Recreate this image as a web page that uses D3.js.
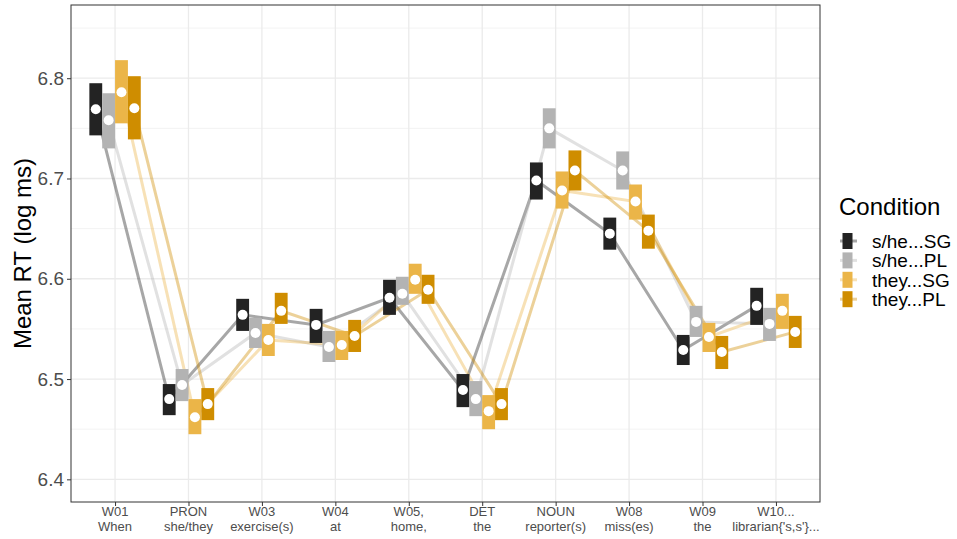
<!DOCTYPE html>
<html>
<head>
<meta charset="utf-8">
<script src="https://cdn.jsdelivr.net/npm/d3@7"></script>
<style>
  body { margin: 0; background: #fff; }
  svg { font-family: "Liberation Sans", Arial, sans-serif; }
</style>
</head>
<body>
<div id="chart"></div>
<script>
// Data
const wordTop = ['W01', 'PRON', 'W03', 'W04', 'W05,', 'DET', 'NOUN', 'W08', 'W09', 'W10...'];
const wordBottom = ['When', 'she/they', 'exercise(s)', 'at', 'home,', 'the', 'reporter(s)', 'miss(es)', 'the', "librarian{'s,s'}..."];
const conditions = ['s/he...SG', 's/he...PL', 'they...SG', 'they...PL'];
const yTicks = [6.4, 6.5, 6.6, 6.7, 6.8];

const sheSGMean = [6.769, 6.480, 6.564, 6.554, 6.581, 6.489, 6.698, 6.645, 6.529, 6.573];
const sheSGLow  = [6.743, 6.464, 6.548, 6.536, 6.564, 6.472, 6.679, 6.629, 6.514, 6.554];
const sheSGHigh = [6.795, 6.495, 6.580, 6.570, 6.599, 6.505, 6.716, 6.661, 6.544, 6.591];

const shePLMean = [6.758, 6.494, 6.546, 6.532, 6.585, 6.480, 6.750, 6.708, 6.557, 6.555];
const shePLLow  = [6.730, 6.478, 6.531, 6.517, 6.574, 6.463, 6.730, 6.689, 6.542, 6.538];
const shePLHigh = [6.785, 6.510, 6.561, 6.548, 6.602, 6.498, 6.770, 6.727, 6.573, 6.571];

const theySGMean = [6.786, 6.462, 6.539, 6.534, 6.599, 6.468, 6.688, 6.677, 6.542, 6.568];
const theySGLow  = [6.755, 6.445, 6.523, 6.519, 6.585, 6.450, 6.670, 6.659, 6.527, 6.550];
const theySGHigh = [6.818, 6.480, 6.555, 6.548, 6.615, 6.484, 6.707, 6.694, 6.556, 6.585];

const theyPLMean = [6.770, 6.475, 6.568, 6.543, 6.589, 6.475, 6.708, 6.648, 6.527, 6.547];
const theyPLLow  = [6.739, 6.459, 6.555, 6.527, 6.575, 6.459, 6.688, 6.630, 6.510, 6.531];
const theyPLHigh = [6.802, 6.491, 6.586, 6.559, 6.604, 6.491, 6.728, 6.664, 6.543, 6.563];

const series = [
    { name: conditions[0], mean: sheSGMean, low: sheSGLow, high: sheSGHigh },
    { name: conditions[1], mean: shePLMean, low: shePLLow, high: shePLHigh },
    { name: conditions[2], mean: theySGMean, low: theySGLow, high: theySGHigh },
    { name: conditions[3], mean: theyPLMean, low: theyPLLow, high: theyPLHigh }
];

const colors = {
    's/he...SG': '#232323',
    's/he...PL': '#b3b3b3',
    'they...SG': '#ebb548',
    'they...PL': '#cf8d00'
};

// Setup
const W = 957, H = 539;
const panel = { left: 71, right: 820, top: 5, bottom: 502 };

const svg = d3.select('#chart').append('svg')
    .attr('width', W)
    .attr('height', H);

svg.append('rect').attr('width', W).attr('height', H).attr('fill', '#fff');

// Scales
const x = d3.scalePoint()
    .domain(d3.range(wordTop.length))
    .range([panel.left, panel.right])
    .padding(0.6);

const y = d3.scaleLinear()
    .domain([6.3774, 6.873])
    .range([panel.bottom, panel.top]);

const dodge = x.step() * 0.7 / conditions.length;
const offset = i => (i - (conditions.length - 1) / 2) * dodge;

// Grid
const grid = svg.append('g');
const minor = d3.range(6.35, 6.9, 0.1).map(v => +v.toFixed(2)).filter(v => y(v) > panel.top && y(v) < panel.bottom);
grid.selectAll('.minor').data(minor).enter().append('line')
    .attr('x1', panel.left).attr('x2', panel.right)
    .attr('y1', d => y(d)).attr('y2', d => y(d))
    .attr('stroke', '#f3f3f3').attr('stroke-width', 1);
grid.selectAll('.majy').data(yTicks).enter().append('line')
    .attr('x1', panel.left).attr('x2', panel.right)
    .attr('y1', d => y(d)).attr('y2', d => y(d))
    .attr('stroke', '#ebebeb').attr('stroke-width', 1.3);
grid.selectAll('.majx').data(x.domain()).enter().append('line')
    .attr('x1', d => x(d)).attr('x2', d => x(d))
    .attr('y1', panel.top).attr('y2', panel.bottom)
    .attr('stroke', '#ebebeb').attr('stroke-width', 1.3);

// Lines
const line = d3.line()
    .x(d => d.x)
    .y(d => y(d.v));

series.forEach((s, i) => {
    const pts = s.mean.map((v, j) => ({ x: x(j) + offset(i), v }));
    svg.append('path')
        .datum(pts)
        .attr('d', line)
        .attr('fill', 'none')
        .attr('stroke', colors[s.name])
        .attr('stroke-opacity', 0.4)
        .attr('stroke-width', 3);
});

// Interval bars and points
series.forEach((s, i) => {
    const g = svg.append('g');
    g.selectAll('rect').data(s.mean).enter().append('rect')
        .attr('x', (d, j) => x(j) + offset(i) - dodge / 2)
        .attr('width', dodge)
        .attr('y', (d, j) => y(s.high[j]))
        .attr('height', (d, j) => y(s.low[j]) - y(s.high[j]))
        .attr('fill', colors[s.name]);
    g.selectAll('circle').data(s.mean).enter().append('circle')
        .attr('cx', (d, j) => x(j) + offset(i))
        .attr('cy', d => y(d))
        .attr('r', 5)
        .attr('fill', '#fff');
});

// Panel border
svg.append('rect')
    .attr('x', panel.left).attr('y', panel.top)
    .attr('width', panel.right - panel.left)
    .attr('height', panel.bottom - panel.top)
    .attr('fill', 'none')
    .attr('stroke', '#333')
    .attr('stroke-width', 1);

// Axes
const yAxis = svg.append('g')
    .attr('transform', `translate(${panel.left},0)`)
    .call(d3.axisLeft(y).tickValues(yTicks).tickSize(4).tickPadding(3).tickFormat(d3.format('.1f')));
yAxis.select('.domain').remove();
yAxis.selectAll('line').attr('stroke', '#333');
yAxis.selectAll('text').attr('fill', '#4d4d4d').style('font-size', '19px').attr('font-family', null);

const xAxis = svg.append('g')
    .attr('transform', `translate(0,${panel.bottom})`)
    .call(d3.axisBottom(x).tickSize(4).tickFormat(''));
xAxis.select('.domain').remove();
xAxis.selectAll('line').attr('stroke', '#333');

const xl = svg.append('g');
xl.selectAll('.t1').data(wordTop).enter().append('text')
    .attr('x', (d, j) => x(j)).attr('y', 516)
    .attr('text-anchor', 'middle')
    .attr('fill', '#4d4d4d').style('font-size', '13px')
    .text(d => d);
xl.selectAll('.t2').data(wordBottom).enter().append('text')
    .attr('x', (d, j) => x(j)).attr('y', 531)
    .attr('text-anchor', 'middle')
    .attr('fill', '#4d4d4d').style('font-size', '13px')
    .text(d => d);

svg.append('text')
    .attr('transform', `translate(31,${(panel.top + panel.bottom) / 2}) rotate(-90)`)
    .attr('text-anchor', 'middle')
    .style('font-size', '24px')
    .attr('fill', '#000')
    .text('Mean RT (log ms)');

// Legend
const legend = svg.append('g').attr('transform', 'translate(839,0)');
legend.append('text')
    .attr('x', 0).attr('y', 215)
    .style('font-size', '24px')
    .text('Condition');

conditions.forEach((c, i) => {
    const cy = 241 + i * 19.4;
    legend.append('line')
        .attr('x1', 1).attr('x2', 18)
        .attr('y1', cy).attr('y2', cy)
        .attr('stroke', colors[c]).attr('stroke-opacity', 0.4).attr('stroke-width', 3);
    legend.append('rect')
        .attr('x', 3.5).attr('y', cy - 8)
        .attr('width', 10).attr('height', 16)
        .attr('fill', colors[c]);
    legend.append('text')
        .attr('x', 33).attr('y', cy + 7)
        .style('font-size', '19px')
        .text(c);
});
</script>
</body>
</html>
